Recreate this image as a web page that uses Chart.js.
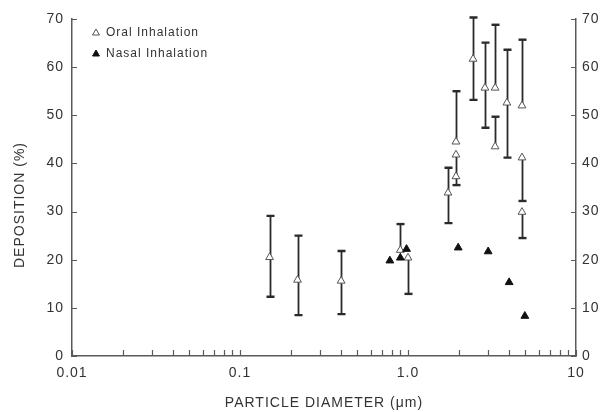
<!DOCTYPE html>
<html>
<head>
<meta charset="utf-8">
<title>Deposition vs particle diameter</title>
<script src="https://cdn.jsdelivr.net/npm/chart.js@4.4.0/dist/chart.umd.min.js"></script>
<style>
  html, body { margin: 0; padding: 0; background: #fff; }
</style>
</head>
<body>
<canvas id="depChart" width="601" height="412"></canvas>
<script>
// oral inhalation: mean deposition with the ends of each error bar
const oralDiam = [0.15, 0.22, 0.40, 0.90, 1.0, 1.73, 1.93, 1.93, 1.93, 2.44, 2.87, 3.3, 3.3, 3.88, 4.77, 4.77, 4.77];
const oralDep  = [20.5, 15.8, 15.6, 22.0, 20.4, 33.9, 44.5, 41.8, 37.3, 61.7, 55.7, 55.7, 43.5, 52.6, 52.0, 41.2, 29.9];
const oralLow  = [12.3,  8.5,  8.7, 22.0, 12.9, 27.6, 44.5, 35.5, 37.3, 53.2, 47.4, 55.7, 43.5, 41.2, 52.0, 32.2, 24.5];
const oralHigh = [29.1, 25.0, 21.8, 27.4, 20.4, 39.1, 55.0, 41.8, 37.3, 70.3, 65.1, 68.8, 49.7, 63.6, 65.7, 41.2, 29.9];

// nasal inhalation
const nasalDiam = [0.78, 0.90, 0.98, 1.99, 3.0, 4.0, 4.96];
const nasalDep  = [19.8, 20.4, 22.2, 22.5, 21.7, 15.3, 8.3];

// axes
const xDecades = [0.01, 0.1, 1];
const xTickLabels = { 0.01: '0.01', 0.1: '0.1', 1: '1.0', 10: '10' };
const yTickValues = [0, 10, 20, 30, 40, 50, 60, 70];

const xTickValues = [];
xDecades.forEach(d => {
  for (let m = 1; m <= 9; m++) xTickValues.push(+(d * m).toPrecision(3));
});
xTickValues.push(10);

const FONT = "'Liberation Sans', Arial, sans-serif";
const INK = '#333';
const AXIS = '#5a5a5a';

Chart.defaults.font.family = FONT;
Chart.defaults.color = INK;

const oralPoints = oralDiam.map((d, i) => ({ x: d, y: oralDep[i] }));
const nasalPoints = nasalDiam.map((d, i) => ({ x: d, y: nasalDep[i] }));

const spacing = {
  id: 'spacing',
  beforeLayout(chart) { chart.ctx.letterSpacing = '1px'; },
  beforeDraw(chart) { chart.ctx.letterSpacing = '1px'; }
};

// error bars, drawn under the markers
const errorBars = {
  id: 'errorBars',
  beforeDatasetsDraw(chart) {
    const { ctx, scales: { x, y } } = chart;
    ctx.save();
    ctx.strokeStyle = '#2a2a2a';
    oralDiam.forEach((d, i) => {
      if (oralLow[i] === oralHigh[i]) return;
      const px = Math.round(x.getPixelForValue(d)) + 0.5;
      const yLo = y.getPixelForValue(oralLow[i]);
      const yHi = y.getPixelForValue(oralHigh[i]);
      ctx.lineWidth = 1.8;
      ctx.beginPath();
      ctx.moveTo(px, yLo);
      ctx.lineTo(px, yHi);
      ctx.stroke();
      ctx.lineWidth = 2.4;
      ctx.beginPath();
      if (oralLow[i] < oralDep[i]) { ctx.moveTo(px - 4, yLo); ctx.lineTo(px + 4, yLo); }
      if (oralHigh[i] > oralDep[i]) { ctx.moveTo(px - 4, yHi); ctx.lineTo(px + 4, yHi); }
      ctx.stroke();
    });
    ctx.restore();
  }
};

// inward tick marks, the y title and the legend
const decorations = {
  id: 'decorations',
  afterDraw(chart) {
    const { ctx, chartArea: area, scales: { x, y } } = chart;
    ctx.save();
    ctx.strokeStyle = AXIS;
    ctx.lineWidth = 1.2;
    ctx.beginPath();
    xTickValues.forEach(v => {
      const px = Math.round(x.getPixelForValue(v)) + 0.5;
      ctx.moveTo(px, area.bottom);
      ctx.lineTo(px, area.bottom - 6);
    });
    yTickValues.forEach(v => {
      const py = Math.round(y.getPixelForValue(v)) + 0.5;
      ctx.moveTo(area.left, py);
      ctx.lineTo(area.left + 5, py);
      ctx.moveTo(area.right, py);
      ctx.lineTo(area.right - 5, py);
    });
    ctx.stroke();

    ctx.letterSpacing = '1px';
    ctx.fillStyle = INK;
    ctx.font = '14px ' + FONT;
    ctx.textAlign = 'center';
    ctx.textBaseline = 'middle';
    ctx.translate(20, 205);
    ctx.rotate(-Math.PI / 2);
    ctx.fillText('DEPOSITION (%)', 0, 0);
    ctx.setTransform(1, 0, 0, 1, 0, 0);

    const legend = [
      { text: 'Oral Inhalation', ds: chart.data.datasets[0], y: 33 },
      { text: 'Nasal Inhalation', ds: chart.data.datasets[1], y: 54 }
    ];
    ctx.font = '12px ' + FONT;
    ctx.textAlign = 'left';
    legend.forEach(item => {
      ctx.fillStyle = item.ds.backgroundColor;
      ctx.strokeStyle = item.ds.borderColor;
      ctx.lineWidth = 1;
      Chart.helpers.drawPoint(ctx, { pointStyle: 'triangle', radius: 4, borderWidth: 1 }, 96, item.y);
      ctx.fillStyle = INK;
      ctx.fillText(item.text, 106, item.y);
    });
    ctx.restore();
  }
};

new Chart(document.getElementById('depChart'), {
  type: 'scatter',
  data: {
    datasets: [{
      label: 'Oral Inhalation',
      data: oralPoints,
      pointStyle: 'triangle',
      pointRadius: 4.5,
      pointHoverRadius: 4.5,
      backgroundColor: '#ffffff',
      borderColor: '#555',
      borderWidth: 1,
      order: 1
    }, {
      label: 'Nasal Inhalation',
      data: nasalPoints,
      pointStyle: 'triangle',
      pointRadius: 4.5,
      pointHoverRadius: 4.5,
      backgroundColor: '#111',
      borderColor: '#111',
      borderWidth: 1,
      order: 0
    }]
  },
  options: {
    responsive: false,
    animation: false,
    layout: { padding: { top: 19, left: 0, right: 0, bottom: 0 } },
    plugins: {
      legend: { display: false },
      tooltip: { enabled: false }
    },
    scales: {
      x: {
        type: 'logarithmic',
        position: 'bottom',
        min: 0.01,
        max: 10,
        afterBuildTicks: scale => { scale.ticks = xTickValues.map(v => ({ value: v })); },
        afterFit: scale => { scale.height = 56; },
        grid: { display: false, drawTicks: false },
        border: { display: true, color: AXIS, width: 1.5 },
        ticks: {
          autoSkip: false,
          maxRotation: 0,
          padding: 9,
          font: { size: 14 },
          callback: v => xTickLabels[v] || ''
        },
        title: {
          display: true,
          text: 'PARTICLE DIAMETER (\u03bcm)',
          font: { size: 14 },
          padding: { top: 0, bottom: 0 }
        }
      },
      y: {
        position: 'left',
        min: 0,
        max: 70,
        afterBuildTicks: scale => { scale.ticks = yTickValues.map(v => ({ value: v })); },
        afterFit: scale => { scale.width = 72; },
        grid: { display: false, drawTicks: false },
        border: { display: true, color: AXIS, width: 1.5 },
        ticks: { padding: 8, font: { size: 14 } }
      },
      y2: {
        position: 'right',
        display: true,
        min: 0,
        max: 70,
        afterBuildTicks: scale => { scale.ticks = yTickValues.map(v => ({ value: v })); },
        afterFit: scale => { scale.width = 25; },
        grid: { display: false, drawTicks: false },
        border: { display: true, color: AXIS, width: 1.5 },
        ticks: { padding: 6, font: { size: 14 } }
      }
    }
  },
  plugins: [spacing, errorBars, decorations]
});
</script>
</body>
</html>
